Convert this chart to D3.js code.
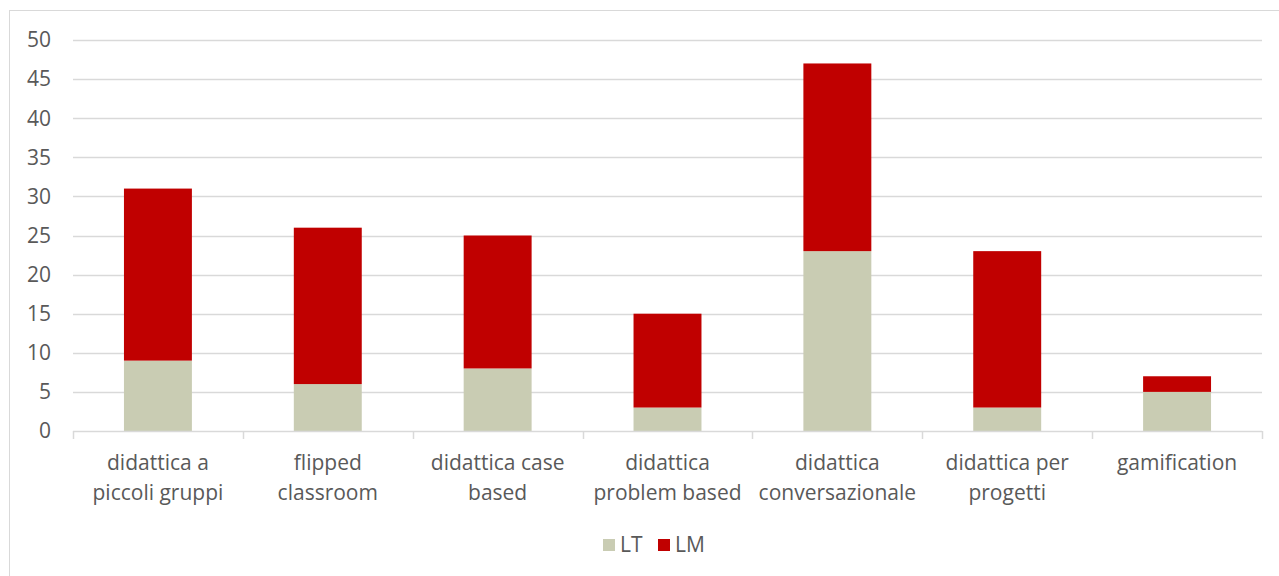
<!DOCTYPE html>
<html>
<head>
<meta charset="utf-8">
<script src="https://cdn.jsdelivr.net/npm/d3@7"></script>
<style>
  html, body { margin: 0; padding: 0; background: #fff; }
  svg { display: block; }
  text { font-family: "Open Sans", Lato, sans-serif; fill: #595959; }
</style>
</head>
<body>
<svg id="chart" width="1279" height="576"></svg>
<script>
// Teaching methods and number of mentions per degree level
const categories = [
  ["didattica a", "piccoli gruppi"],
  ["flipped", "classroom"],
  ["didattica case", "based"],
  ["didattica", "problem based"],
  ["didattica", "conversazionale"],
  ["didattica per", "progetti"],
  ["gamification"]
];
const seriesNames = ["LT", "LM"];
const valuesLT = [9, 6, 8, 3, 23, 3, 5];
const valuesLM = [22, 20, 17, 12, 24, 20, 2];
const yTicks = [0, 5, 10, 15, 20, 25, 30, 35, 40, 45, 50];
const colors = { LT: "#C9CCB3", LM: "#C00000" };

const svg = d3.select("#chart");
const W = 1279, H = 576;
const plot = { left: 73, right: 1262, top: 40, bottom: 431 };
const fontSize = 21;

// outer frame (top and left edges visible)
svg.append("rect")
  .attr("x", 9.5).attr("y", 10.5)
  .attr("width", W + 10).attr("height", H + 10)
  .attr("fill", "none").attr("stroke", "#d9d9d9").attr("stroke-width", 1);

const keys = categories.map((c, i) => i);
const x = d3.scaleBand().domain(keys).range([plot.left, plot.right]).paddingInner(0.6).paddingOuter(0.3);
const xOuter = d3.scaleBand().domain(keys).range([plot.left, plot.right]);
const y = d3.scaleLinear().domain([0, 50]).range([plot.bottom, plot.top]);

// gridlines
svg.append("g").selectAll("line").data(yTicks.filter(t => t > 0)).join("line")
  .attr("x1", plot.left).attr("x2", plot.right)
  .attr("y1", d => Math.round(y(d)) + 0.5).attr("y2", d => Math.round(y(d)) + 0.5)
  .attr("stroke", "#d9d9d9").attr("stroke-width", 1.5);

// y tick labels
svg.append("g").selectAll("text").data(yTicks).join("text")
  .attr("x", 51).attr("y", d => y(d))
  .attr("dy", "0.35em").attr("text-anchor", "end")
  .attr("font-size", fontSize)
  .text(d => d);

// stacked bars
const rows = keys.map(i => ({ i, LT: valuesLT[i], LM: valuesLM[i] }));
const stack = d3.stack().keys(seriesNames)(rows);
svg.append("g").selectAll("g").data(stack).join("g")
  .attr("fill", s => colors[s.key])
  .selectAll("rect").data(s => s).join("rect")
  .attr("x", d => x(d.data.i))
  .attr("width", x.bandwidth())
  .attr("y", d => y(d[1]))
  .attr("height", d => y(d[0]) - y(d[1]));

// x axis line and category separators
const axisG = svg.append("g");
axisG.append("line")
  .attr("x1", plot.left).attr("x2", plot.right)
  .attr("y1", plot.bottom + 0.5).attr("y2", plot.bottom + 0.5)
  .attr("stroke", "#d9d9d9").attr("stroke-width", 1.5);
const sepX = keys.map(i => xOuter(i)).concat([plot.right]);
axisG.selectAll("line.tick").data(sepX).join("line")
  .attr("class", "tick")
  .attr("x1", d => Math.round(d) + 0.5).attr("x2", d => Math.round(d) + 0.5)
  .attr("y1", plot.bottom).attr("y2", plot.bottom + 8)
  .attr("stroke", "#d9d9d9").attr("stroke-width", 1.5);

// category labels
const lab = svg.append("g").selectAll("text").data(keys).join("text")
  .attr("x", i => xOuter(i) + xOuter.bandwidth() / 2)
  .attr("y", 470)
  .attr("text-anchor", "middle")
  .attr("font-size", fontSize);
lab.selectAll("tspan").data(i => categories[i].map(t => ({ t, i }))).join("tspan")
  .attr("x", d => xOuter(d.i) + xOuter.bandwidth() / 2)
  .attr("dy", (d, j) => j === 0 ? 0 : 30)
  .text(d => d.t);

// legend
const legend = svg.append("g");
const legendItems = [{ key: "LT", x: 603 }, { key: "LM", x: 658 }];
legendItems.forEach(it => {
  legend.append("rect")
    .attr("x", it.x).attr("y", 539).attr("width", 12).attr("height", 12)
    .attr("fill", colors[it.key]);
  legend.append("text")
    .attr("x", it.x + 17).attr("y", 545)
    .attr("dy", "0.35em").attr("font-size", fontSize)
    .text(it.key);
});
</script>
</body>
</html>
